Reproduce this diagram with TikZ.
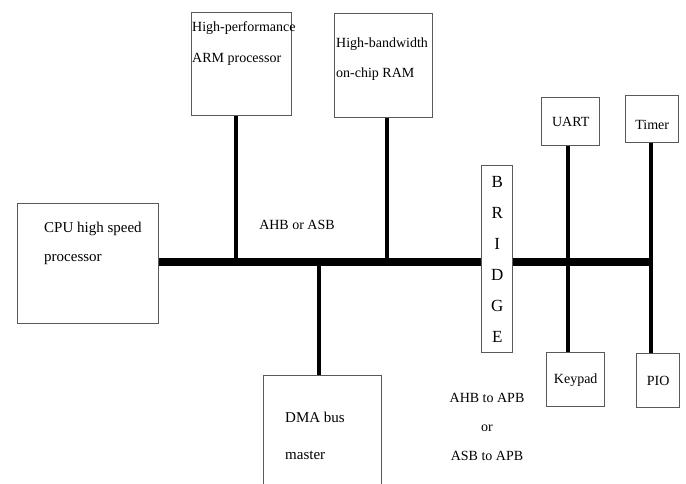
\documentclass[tikz,border=0pt]{standalone}
\usepackage{fontspec}
\setmainfont{Liberation Serif}
\usetikzlibrary{positioning}
\tikzset{
  unitbox/.style={draw=black!65, line width=1.4pt, inner sep=0pt, anchor=north west, align=center, font=\fontsize{14}{16}\selectfont},
  boxtext/.style={anchor=north west, align=left, inner sep=0pt, font=\fontsize{14}{#1}\selectfont},
  bus/.style={line width=8pt},
  tap/.style={line width=4.6pt}
}

\begin{document}
\begin{tikzpicture}[x=1pt, y=-1pt]
    \useasboundingbox (0,0) rectangle (686,484);
    \clip (0,0) rectangle (686,484);
    \node[unitbox, minimum width=141, minimum height=120] (cpu) at (17,203) {};
    \node[unitbox, minimum width=100, minimum height=103] (arm) at (191,12) {};
    \node[unitbox, minimum width=98, minimum height=104] (ram) at (334,13) {};
    \node[unitbox, minimum width=118, minimum height=125] (dma) at (263,375) {};
    \node[unitbox, minimum width=31, minimum height=187, font=\fontsize{17}{31}\selectfont] (bridge) at (481,165) {B\\R\\I\\D\\G\\E};
    \node[unitbox, minimum width=58, minimum height=48] (uart) at (541,97) {UART};
    \node[unitbox, minimum width=53, minimum height=47, text height=20pt, text depth=0pt] (timer) at (625,95) {Timer};
    \node[unitbox, minimum width=58, minimum height=54] (keypad) at (546,352) {Keypad};
    \node[unitbox, minimum width=43, minimum height=54] (pio) at (636,353) {PIO};
    \node[boxtext=29, font=\fontsize{15}{29}\selectfont] (cpuText) at (44,222) {CPU high speed\\processor};
    \node[boxtext=31] (armText) at (192,21) {High-performance\\ARM processor};
    \node[boxtext=30] (ramText) at (336,38) {High-bandwidth\\on-chip RAM};
    \node[boxtext=37, font=\fontsize{15}{37}\selectfont] (dmaText) at (285,412) {DMA bus\\master};
    \node[font=\fontsize{14}{16}\selectfont] (busLabel) at (297,225) {AHB or ASB};
    \node[anchor=north, align=center, inner sep=0pt, font=\fontsize{14}{29}\selectfont] (bridgeLabel) at (487,393) {AHB to APB\\or\\ASB to APB};
    \coordinate (armTap) at (236,262);
    \coordinate (ramTap) at (387,262);
    \coordinate (dmaTap) at (319,262);
    \coordinate (uartTap) at (568,262);
    \coordinate (timerTap) at (651,262);
    \draw[bus] (cpu.east |- timerTap) -- (bridge.west |- timerTap);
    \draw[bus] (bridge.east |- timerTap) -- (timerTap);
    \draw[tap] (armTap |- arm.south) -- (armTap);
    \draw[tap] (ramTap |- ram.south) -- (ramTap);
    \draw[tap] (dmaTap) -- (dmaTap |- dma.north);
    \draw[tap] (uartTap |- uart.south) -- (uartTap |- keypad.north);
    \draw[tap] (timerTap |- timer.south) -- (timerTap |- pio.north);
  \end{tikzpicture}
\end{document}
